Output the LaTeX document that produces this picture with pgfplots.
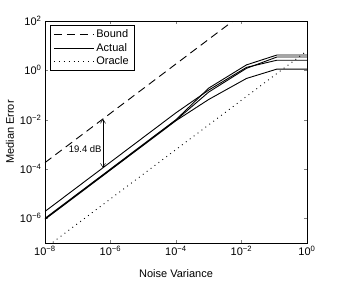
\documentclass[border=0pt]{standalone}
\usepackage{fontspec}
\setmainfont{Liberation Sans}
\usepackage{pgfplots}
\pgfplotsset{compat=1.18}
\usetikzlibrary{calc,arrows.meta}
\begin{document}
\begin{tikzpicture}
\begin{axis}[
  name=ax,
  scale only axis,
  width=262pt, height=222pt,
  xmode=log, ymode=log,
  xmin=1e-8, xmax=1, ymin=1e-7, ymax=1e2,
  xtick={1e-8,1e-6,1e-4,1e-2,1},
  xticklabels={10\textsuperscript{−8},10\textsuperscript{−6},10\textsuperscript{−4},10\textsuperscript{−2},10\textsuperscript{0}},
  ytick={1e-6,1e-4,1e-2,1,1e2},
  yticklabels={10\textsuperscript{−6},10\textsuperscript{−4},10\textsuperscript{−2},10\textsuperscript{0},10\textsuperscript{2}},
  minor tick style={draw=none},
  tick align=inside,
  major tick length=3pt,
  font=\fontsize{11}{13}\selectfont,
  xlabel={Noise Variance},
  ylabel={Median Error},
  xlabel style={at={(axis description cs:0.5,0)}, anchor=center, yshift=-31pt},
  ylabel style={at={(axis description cs:0,0.5)}, anchor=center, rotate=0, yshift=35pt},
  legend style={at={(axis description cs:0.02,0.982)}, anchor=north west, draw=black, line width=0.5pt, inner xsep=3pt, inner ysep=2.5pt, row sep=0pt, font=\fontsize{11}{13}\selectfont},
  legend cell align=left,
  legend image code/.code={\draw[#1] (0pt,0pt) -- (40pt,0pt);},
]
\coordinate (bl) at (rel axis cs:0,0);
\coordinate (tr) at (rel axis cs:1,1);
% Bound
\addplot[black, line width=0.9pt, dash pattern=on 8pt off 5pt] coordinates {(1e-8,1.82e-4) (1,1.82e4)};
\addlegendentry{Bound}
% Actual (A)
\addplot[black, line width=0.9pt] coordinates {(1e-8,1.905e-6) (1e-4,1.905e-2) (1e-3,0.1585) (0.01413,1.318) (0.1202,2.570) (1,2.570)};
\addlegendentry{Actual}
% Oracle
\addplot[black, line width=0.9pt, dash pattern=on 0.9pt off 4pt] coordinates {(1e-8,6.17e-8) (1,6.17)};
\addlegendentry{Oracle}
% other Actual curves
\addplot[black, line width=0.9pt, forget plot] coordinates {(1e-8,1e-6) (1e-4,1e-2) (1e-3,0.1905) (0.01413,1.660) (0.1202,4.169) (1,4.169)};
\addplot[black, line width=0.9pt, forget plot] coordinates {(1e-8,9.55e-7) (1e-4,9.55e-3) (1e-3,0.1318) (0.01413,1.202) (0.1202,3.467) (1,3.467)};
\addplot[black, line width=0.9pt, forget plot] coordinates {(1e-8,9.12e-7) (1e-4,9.12e-3) (1e-3,0.0661) (0.01413,0.4677) (0.1202,1.122) (1,1.122)};
% annotation arrow
\addplot[black, line width=0.5pt, {Straight Barb[length=4pt,width=5pt]}-{Straight Barb[length=4pt,width=5pt]}, forget plot] coordinates {(5.89e-7,1.07e-2) (5.89e-7,1.12e-4)};
\node[anchor=east, inner sep=0.5pt, font=\fontsize{9.5}{11}\selectfont] at (axis cs:5.6e-7,6.3e-4) {19.4 dB};
\end{axis}
\pgfresetboundingbox
\path ($(bl)+(-45pt,-38pt)$) rectangle ($(tr)+(32pt,21pt)$);
\end{tikzpicture}
\end{document}
